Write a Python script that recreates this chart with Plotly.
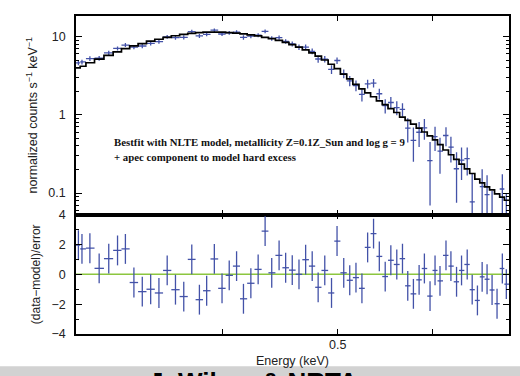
import numpy as np
import plotly.graph_objects as go

# Energy range of the fit (keV)
E_MIN, E_MAX = 0.3015, 0.6961

# Spectral bin centres (keV)
energy_keV = [
    0.3029, 0.3050, 0.3097, 0.3153, 0.3212, 0.3267, 0.3317, 0.3372, 0.3427, 0.3483,
    0.3539, 0.3596, 0.3654, 0.3713, 0.3771, 0.3827, 0.3881, 0.3939, 0.3998, 0.4054,
    0.4112, 0.4167, 0.4227, 0.4287, 0.4345, 0.4401, 0.4464, 0.4521, 0.4579, 0.4639,
    0.4699, 0.4759, 0.4814, 0.4876, 0.4940, 0.4993, 0.5058, 0.5117, 0.5179, 0.5239,
    0.5297, 0.5358, 0.5418, 0.5480, 0.5540, 0.5604, 0.5666, 0.5724, 0.5787, 0.5851,
    0.5911, 0.5976, 0.6034, 0.6092, 0.6163, 0.6222, 0.6290, 0.6351, 0.6421, 0.6483,
    0.6549, 0.6609, 0.6672, 0.6737, 0.6802, 0.6872, 0.6925,
]

# Best-fit model (NLTE + apec), normalized counts s^-1 keV^-1
model_rate = [
    3.98, 4.17, 4.62, 5.13, 5.75, 6.38, 7.00, 7.59, 8.13, 8.71,
    9.23, 9.77, 10.23, 10.64, 10.96, 11.22, 11.35, 11.40, 11.35, 11.22,
    11.04, 10.81, 10.52, 10.19, 9.77, 9.38, 8.91, 8.41, 7.89, 7.33,
    6.76, 6.17, 5.62, 5.01, 4.42, 3.89, 3.31, 2.88, 2.45, 2.14,
    1.91, 1.70, 1.51, 1.35, 1.20, 1.07, 0.933, 0.851, 0.759, 0.676,
    0.603, 0.537, 0.479, 0.417, 0.355, 0.309, 0.269, 0.234, 0.204, 0.178,
    0.151, 0.135, 0.120, 0.110, 0.098, 0.089, 0.081,
]

# 1-sigma uncertainty of the measured rate
rate_err = [
    0.32, 0.33, 0.35, 0.36, 0.40, 0.41, 0.46, 0.46, 0.49, 0.52,
    0.51, 0.54, 0.56, 0.59, 0.60, 0.62, 0.62, 0.63, 0.62, 0.62,
    0.61, 0.65, 0.63, 0.61, 0.64, 0.61, 0.62, 0.59, 0.59, 0.59,
    0.57, 0.56, 0.53, 0.50, 0.49, 0.47, 0.43, 0.40, 0.37, 0.34,
    0.32, 0.31, 0.29, 0.27, 0.25, 0.25, 0.23, 0.23, 0.22, 0.21,
    0.20, 0.19, 0.18, 0.167, 0.149, 0.139, 0.129, 0.117, 0.108, 0.098,
    0.088, 0.081, 0.074, 0.070, 0.065, 0.061, 0.057,
]

# Residuals (data - model) / error
residual = [
    1.95, 1.70, 1.75, 0.40, 1.05, 1.60, 1.70, -0.55, -1.16, -1.00,
    -1.25, 0.26, -1.03, -1.49, 1.00, -1.70, -1.10, 1.03, -0.94, -0.07,
    0.55, -1.64, -0.60, 0.33, 2.89, 0.10, 1.27, 0.44, 0.28, 0.00,
    0.98, 0.55, -0.87, 0.26, -1.25, 2.23, 0.10, -0.40, -0.22, -0.94,
    1.80, 2.73, 1.20, -0.15, 0.94, 0.66, 1.05, -0.77, -1.31, -0.37,
    0.39, -1.46, 0.26, -0.44, 1.27, 0.55, -0.50, 0.26, 0.66, -1.03,
    -1.75, -0.17, -0.33, -1.05, -1.97, 0.39, -0.66,
]

E = np.array(energy_keV)
mod = np.array(model_rate)
err = np.array(rate_err)
res = np.array(residual)
data_rate = mod + res * err

# bin edges: geometric midpoints between neighbouring centres
edges = np.concatenate(([E_MIN], np.sqrt(E[:-1] * E[1:]), [E_MAX]))
xlo = E - edges[:-1]
xhi = edges[1:] - E

BLUE = "#4352a8"
GREEN = "#8cc63f"
FONT = "Liberation Sans, Arial, sans-serif"
SERIF = "Liberation Serif, Times New Roman, serif"

fig = go.Figure()

# measured spectrum
fig.add_trace(go.Scatter(
    x=E, y=data_rate, mode="markers",
    marker=dict(size=1, color=BLUE),
    error_x=dict(type="data", array=xhi, arrayminus=xlo, color=BLUE, thickness=1.3, width=0),
    error_y=dict(type="data", array=err, color=BLUE, thickness=1.3, width=0),
    xaxis="x", yaxis="y", showlegend=False, hoverinfo="skip",
))

# model histogram
fig.add_trace(go.Scatter(
    x=edges, y=np.append(mod, mod[-1]), mode="lines", line_shape="hv",
    line=dict(color="black", width=1.7),
    xaxis="x", yaxis="y", showlegend=False, hoverinfo="skip",
))

# residuals
fig.add_trace(go.Scatter(
    x=E, y=res, mode="markers",
    marker=dict(size=1, color=BLUE),
    error_x=dict(type="data", array=xhi, arrayminus=xlo, color=BLUE, thickness=1.3, width=0),
    error_y=dict(type="constant", value=1.0, color=BLUE, thickness=1.3, width=0),
    xaxis="x2", yaxis="y2", showlegend=False, hoverinfo="skip",
))

SPLIT = 122 / 325
xr = [np.log10(E_MIN), np.log10(E_MAX)]

common_x = dict(
    type="log", range=xr, tickvals=[0.4, 0.5, 0.6], ticks="inside", ticklen=5,
    tickwidth=1.3, tickcolor="black", showline=True, linecolor="black", linewidth=1.5,
    mirror="allticks", showgrid=False, zeroline=False,
)

major_y = [0.1, 1, 10]
minor_y = [0.06, 0.07, 0.08, 0.09] + [k / 10 for k in range(2, 10)] + list(range(2, 10))

fig.update_layout(
    width=520, height=376,
    margin=dict(l=76, r=9, t=9, b=42),
    paper_bgcolor="white", plot_bgcolor="white",
    font=dict(family=FONT, size=12, color="#222"),
    xaxis=dict(common_x, domain=[0, 1], anchor="y", showticklabels=False),
    xaxis2=dict(common_x, domain=[0, 1], anchor="y2", ticktext=["", "0.5", ""],
                tickfont=dict(size=12.5), ticklabelstandoff=-2,
                title=dict(text="Energy (keV)", font=dict(size=12.5), standoff=5)),
    yaxis=dict(
        type="log", domain=[SPLIT, 1], anchor="x", range=[-1.275, 1.262],
        tickvals=major_y, ticktext=["0.1", "1", "10"], ticks="inside", ticklen=6,
        tickwidth=1.3, tickcolor="black", showline=True, linecolor="black", linewidth=1.5,
        mirror="allticks", showgrid=False, zeroline=False, tickfont=dict(size=12.5),
        ticklabelstandoff=6,
        minor=dict(tickvals=minor_y, ticks="inside", ticklen=3, tickwidth=1, tickcolor="black"),
        title=dict(text="normalized counts s<sup>−1</sup> keV<sup>−1</sup>",
                   font=dict(size=12.5), standoff=8),
    ),
    yaxis2=dict(
        domain=[0, SPLIT], anchor="x2", range=[-4, 4],
        tickvals=[-4, -2, 0, 2, 4], ticktext=["−4", "−2", "0", "2", "4"],
        ticks="inside", ticklen=6, tickwidth=1.3, tickcolor="black",
        showline=True, linecolor="black", linewidth=1.5, mirror="allticks",
        showgrid=False, zeroline=False, tickfont=dict(size=12.5), ticklabelstandoff=6,
        minor=dict(tickvals=[-3, -1, 1, 3], ticks="inside", ticklen=3, tickwidth=1, tickcolor="black"),
        title=dict(text="(data−model)/error", font=dict(size=12), standoff=8),
    ),
    shapes=[
        dict(type="line", xref="x2 domain", x0=0, x1=1, yref="y2", y0=0, y1=0,
             line=dict(color=GREEN, width=1.6), layer="below"),
        dict(type="rect", xref="paper", yref="paper", x0=-0.2, x1=1.05,
             y0=-0.2, y1=-33 / 325, fillcolor="#d2d2d2", line=dict(width=0), layer="below"),
    ],
    annotations=[
        dict(text="<b>Bestfit with NLTE model, metallicity Z=0.1Z_Sun and log g = 9</b>",
             xref="paper", yref="paper", x=0.083, y=0.603, xanchor="left", yanchor="middle",
             showarrow=False, font=dict(family=SERIF, size=10.8, color="#111")),
        dict(text="<b>+ apec component to model hard excess</b>",
             xref="paper", yref="paper", x=0.083, y=0.557, xanchor="left", yanchor="middle",
             showarrow=False, font=dict(family=SERIF, size=10.8, color="#111")),
        dict(text="<b>J. Wilms &amp; NRTA</b>",
             xref="paper", yref="paper", x=(147 - 76) / 435, y=-0.098, xanchor="left", yanchor="top",
             showarrow=False, font=dict(family=FONT, size=26, color="black")),
    ],
)

fig.write_html("out.html")
